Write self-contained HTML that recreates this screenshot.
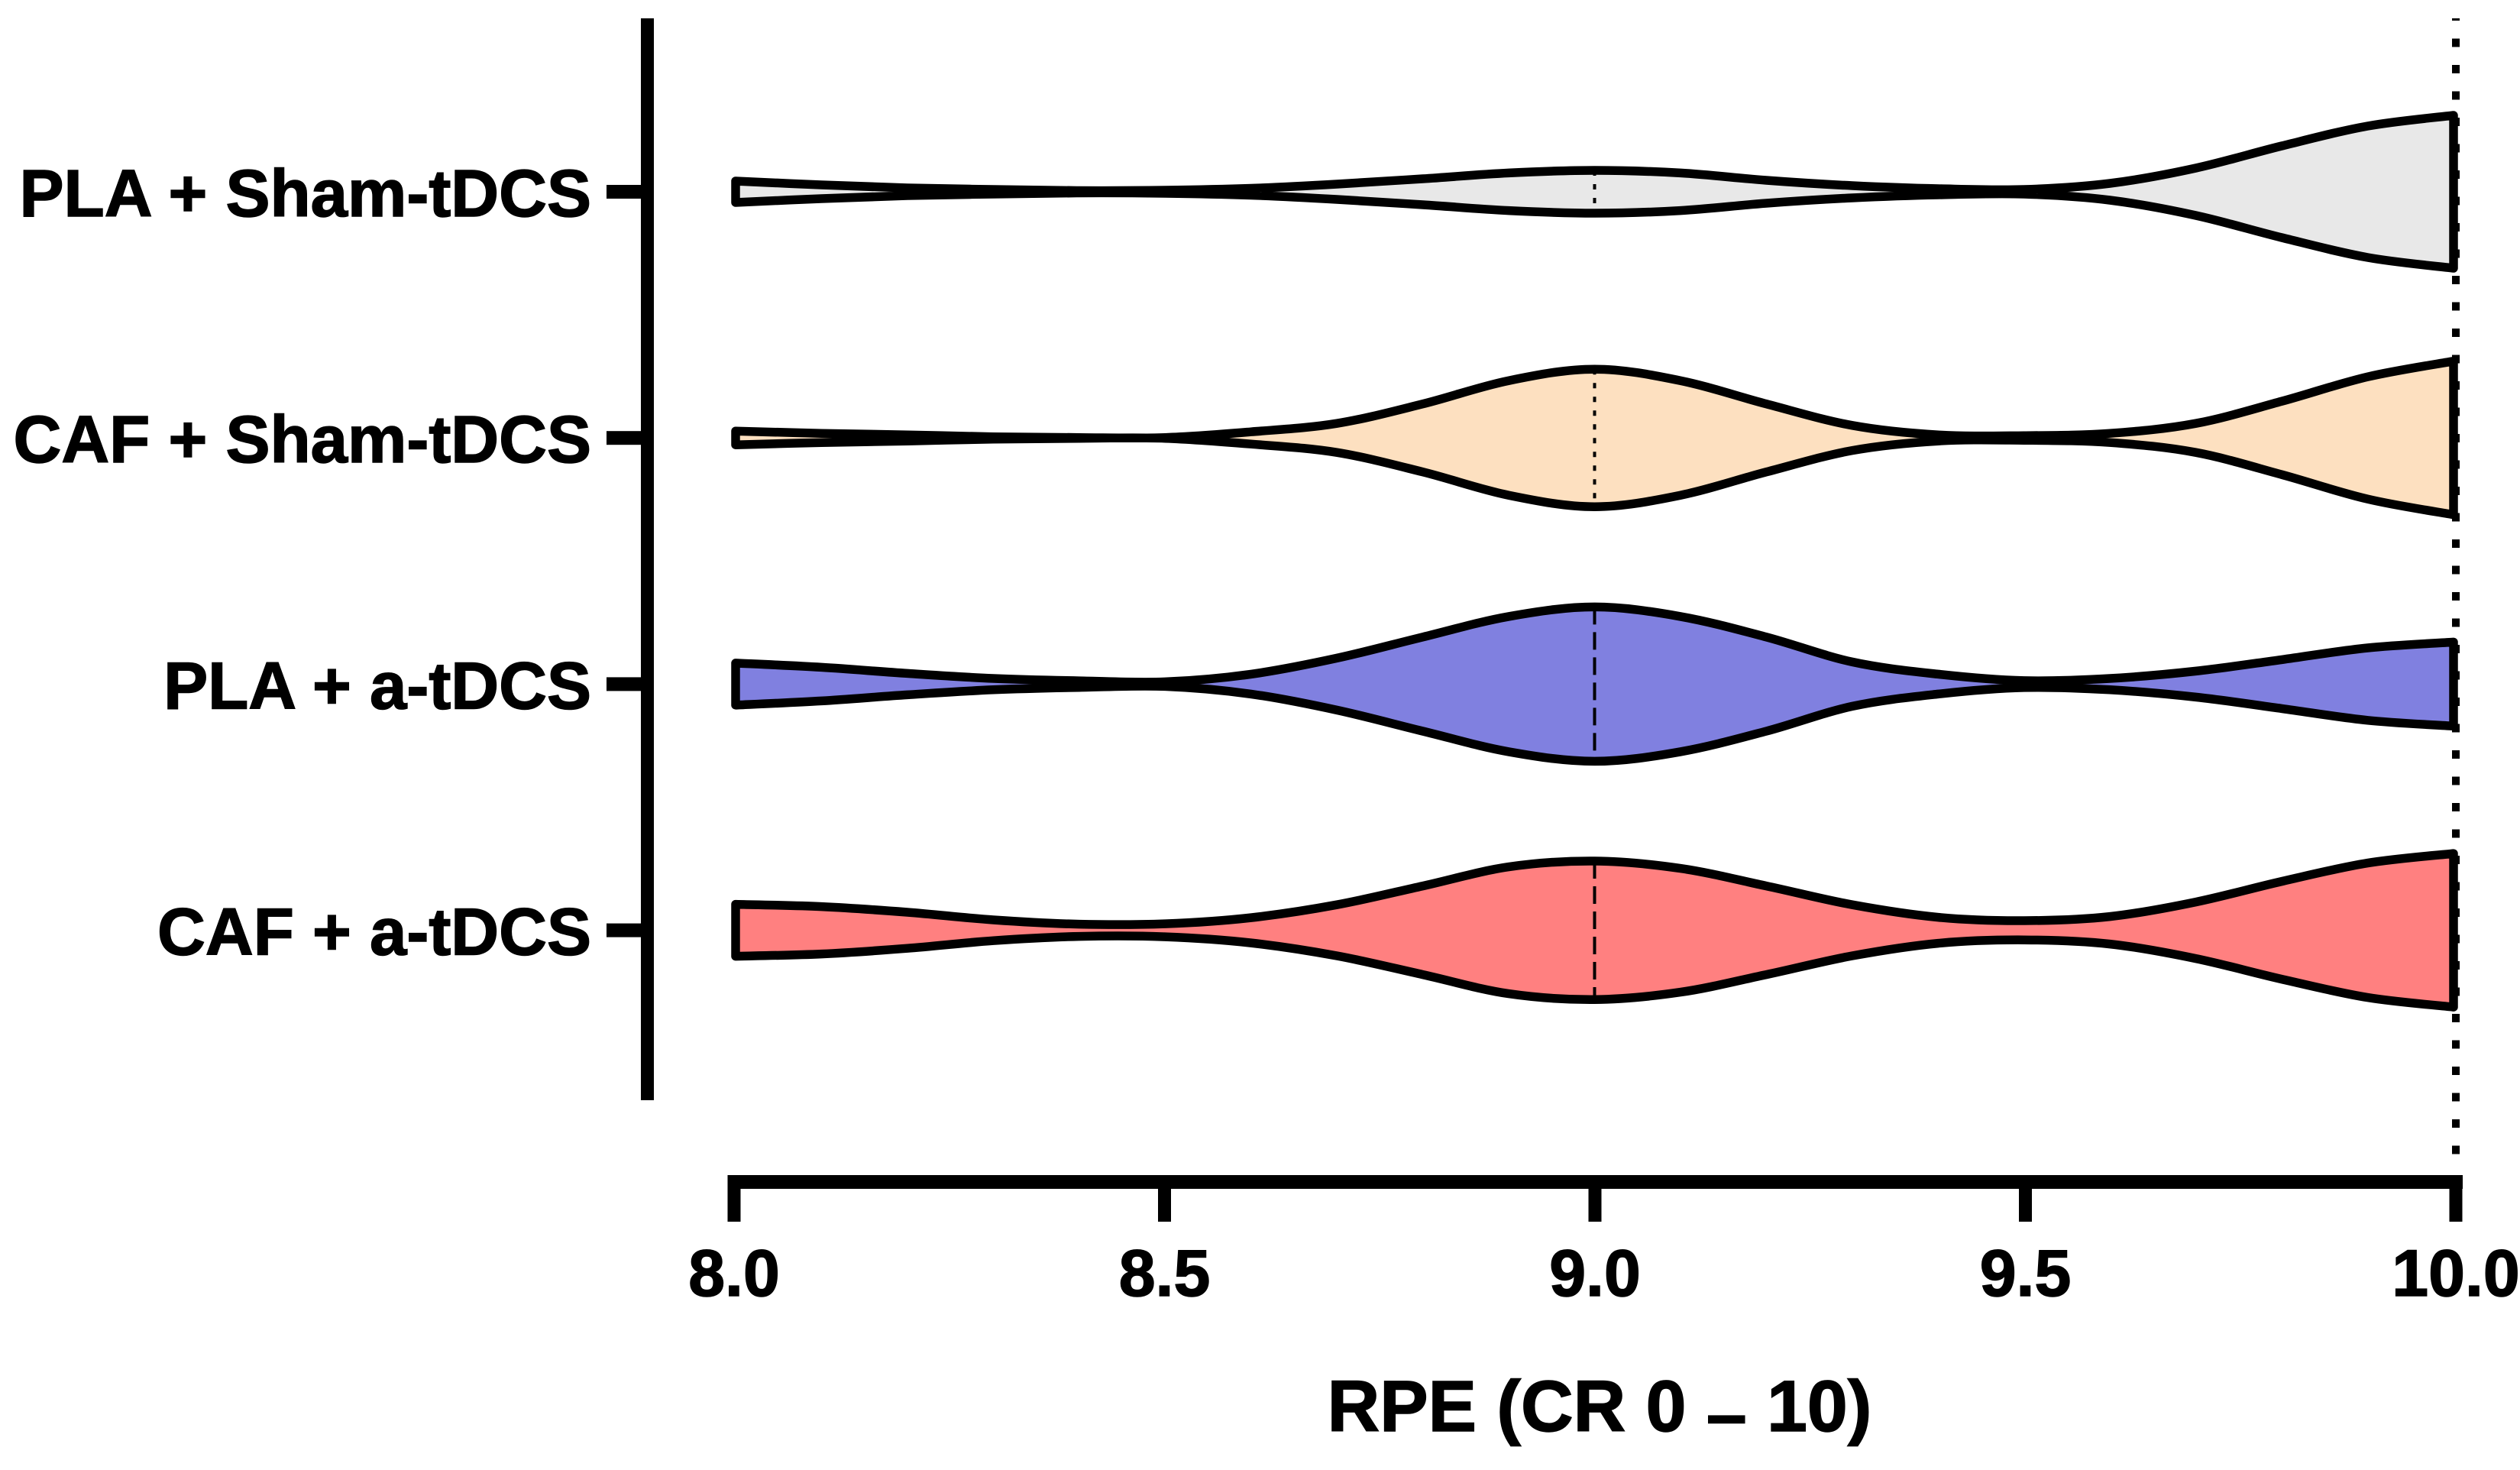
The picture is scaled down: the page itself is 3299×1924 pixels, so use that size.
<!DOCTYPE html>
<html lang="en">
<head>
<meta charset="utf-8">
<title>RPE violin plot</title>
<style>
  html, body { margin: 0; padding: 0; background: #ffffff; }
  svg { display: block; font-family: "Liberation Sans", Arial, sans-serif; font-weight: 700; fill: #000; }
</style>
</head>
<body>
<svg id="chart" xmlns="http://www.w3.org/2000/svg" width="3299" height="1924" viewBox="0 0 3299 1924">
  <rect x="0" y="0" width="3299" height="1924" fill="#ffffff"></rect>
  <g id="violins"></g>
  <g id="y-axis">
    <rect x="839" y="24" width="17" height="1416" fill="#000"></rect>
  </g>
  <g id="x-axis">
    <rect x="953" y="1538" width="271" height="18" fill="#000" id="x-axis-line"></rect>
  </g>
  <text x="2094" y="1873" text-anchor="middle" font-size="95" stroke="#000" stroke-width="1.5">RPE (CR 0 <tspan dy="10">–</tspan><tspan dy="-10"> 10)</tspan></text>
</svg>
<script>
const categories = ["PLA + Sham-tDCS", "CAF + Sham-tDCS", "PLA + a-tDCS", "CAF + a-tDCS"];
const fills = ["#e8e8e8", "#fde0c0", "#8080e0", "#ff8080"];
const medianDash = ["7 11", "7 11", "23 10", "23 10"];
const xTicks = [8.0, 8.5, 9.0, 9.5, 10.0];
const referenceValue = 10.0;
const medians = [9.0, 9.0, 9.0, 9.0];
const rpeGrid = [8.0, 8.1, 8.2, 8.3, 8.4, 8.5, 8.6, 8.7, 8.8, 8.9, 9.0, 9.1, 9.2, 9.3, 9.4, 9.5, 9.6, 9.7, 9.8, 9.9, 10.0];
const densityPlaSham = [14, 9, 5, 3, 1.5, 2, 4.5, 10, 17, 24.6, 28, 24.6, 15, 8, 4, 3, 11, 31, 60, 86, 100];
const densityCafSham = [9, 6, 4, 1.5, 0.5, 0.5, 8, 19, 44.5, 75, 90, 75, 44.5, 16.4, 4, 3, 6, 19, 48, 80, 100.5];
const densityPlaAnodal = [27.5, 22, 14, 7.4, 4.3, 3, 13, 34, 61.6, 88.5, 101, 88.5, 61.6, 29, 13, 4.5, 7.4, 17, 32, 47.4, 55];
const densityCafAnodal = [34, 31, 23.6, 13.6, 8, 8.5, 16.5, 33.4, 58, 83, 90.6, 81, 58, 33.4, 17, 12.6, 18, 37, 64, 88, 100.5];
const densities = [densityPlaSham, densityCafSham, densityPlaAnodal, densityCafAnodal];

const NS = "http://www.w3.org/2000/svg";
function xScale(v) { return 961 + (v - 8) / 2 * 2254; }
function violinX(v) { return 963 + (v - 8) / 2 * 2249; }
function rowScale(i) { return 251 + i * 322.2; }
function halfScale(d) { return d * 1; }

function curveThrough(pts) {
  let d = "";
  for (let i = 0; i < pts.length - 1; i++) {
    const p0 = pts[Math.max(i - 1, 0)], p1 = pts[i], p2 = pts[i + 1], p3 = pts[Math.min(i + 2, pts.length - 1)];
    const c1x = p1[0] + (p2[0] - p0[0]) / 6, c1y = p1[1] + (p2[1] - p0[1]) / 6;
    const c2x = p2[0] - (p3[0] - p1[0]) / 6, c2y = p2[1] - (p3[1] - p1[1]) / 6;
    d += " C" + c1x.toFixed(1) + " " + c1y.toFixed(1) + " " + c2x.toFixed(1) + " " + c2y.toFixed(1) + " " + p2[0].toFixed(1) + " " + p2[1].toFixed(1);
  }
  return d;
}

function interpolateDensity(series, v) {
  for (let i = 0; i < rpeGrid.length - 1; i++) {
    if (v >= rpeGrid[i] && v <= rpeGrid[i + 1]) {
      const t = (v - rpeGrid[i]) / (rpeGrid[i + 1] - rpeGrid[i]);
      return series[i] + t * (series[i + 1] - series[i]);
    }
  }
  return 0;
}

const violinLayer = document.getElementById("violins");
categories.forEach(function (label, i) {
  const cy = rowScale(i);
  const series = densities[i];
  const upper = rpeGrid.map(function (v, k) { return [violinX(v), cy - halfScale(series[k])]; });
  const lower = rpeGrid.map(function (v, k) { return [violinX(v), cy + halfScale(series[k])]; }).reverse();
  const d = "M" + upper[0][0] + " " + upper[0][1] + curveThrough(upper) + " L" + lower[0][0] + " " + lower[0][1] + curveThrough(lower) + " Z";

  const path = document.createElementNS(NS, "path");
  path.setAttribute("d", d);
  path.setAttribute("fill", fills[i]);
  path.setAttribute("stroke", "#000");
  path.setAttribute("stroke-width", "11.5");
  path.setAttribute("stroke-linejoin", "round");
  
  
  violinLayer.appendChild(path);

  const medianHalf = halfScale(interpolateDensity(series, medians[i]));
  const median = document.createElementNS(NS, "line");
  median.setAttribute("x1", violinX(medians[i]));
  median.setAttribute("x2", violinX(medians[i]));
  median.setAttribute("y1", cy - medianHalf);
  median.setAttribute("y2", cy + medianHalf);
  median.setAttribute("stroke", "#000");
  median.setAttribute("stroke-width", "4");
  median.setAttribute("stroke-dasharray", medianDash[i]);
  
  
  violinLayer.appendChild(median);
});

const yAxis = document.getElementById("y-axis");
categories.forEach(function (label, i) {
  const cy = rowScale(i);
  const tick = document.createElementNS(NS, "rect");
  tick.setAttribute("x", 794);
  tick.setAttribute("y", cy - 9);
  tick.setAttribute("width", 45);
  tick.setAttribute("height", 18);
  tick.setAttribute("fill", "#000");
  
  
  yAxis.appendChild(tick);

  const text = document.createElementNS(NS, "text");
  text.setAttribute("x", 774);
  text.setAttribute("y", cy + 32);
  text.setAttribute("text-anchor", "end");
  text.setAttribute("font-size", "87");
  text.setAttribute("stroke", "#000");
  text.setAttribute("stroke-width", "1.5");
  text.textContent = label;
  
  
  yAxis.appendChild(text);
});

const xAxis = document.getElementById("x-axis");
const xLine = document.getElementById("x-axis-line");
xLine.setAttribute("x", xScale(xTicks[0]) - 8);
xLine.setAttribute("width", xScale(xTicks[xTicks.length - 1]) - xScale(xTicks[0]) + 17);
xTicks.forEach(function (v) {
  const tick = document.createElementNS(NS, "rect");
  tick.setAttribute("x", xScale(v) - 8.5);
  tick.setAttribute("y", 1538);
  tick.setAttribute("width", 17);
  tick.setAttribute("height", 61);
  tick.setAttribute("fill", "#000");
  
  
  xAxis.appendChild(tick);

  const text = document.createElementNS(NS, "text");
  text.setAttribute("x", xScale(v));
  text.setAttribute("y", 1696);
  text.setAttribute("text-anchor", "middle");
  text.setAttribute("font-size", "86");
  text.setAttribute("stroke", "#000");
  text.setAttribute("stroke-width", "1.5");
  text.textContent = v.toFixed(1);
  
  
  xAxis.appendChild(text);
});

const refLine = document.createElementNS(NS, "line");
refLine.setAttribute("x1", xScale(referenceValue));
refLine.setAttribute("x2", xScale(referenceValue));
refLine.setAttribute("y1", 24);
refLine.setAttribute("y2", 1511);
refLine.setAttribute("stroke", "#000");
refLine.setAttribute("stroke-width", "10");
refLine.setAttribute("stroke-dasharray", "11 23.5");
refLine.setAttribute("stroke-dashoffset", "8");


document.getElementById("chart").appendChild(refLine);
</script>
</body>
</html>
